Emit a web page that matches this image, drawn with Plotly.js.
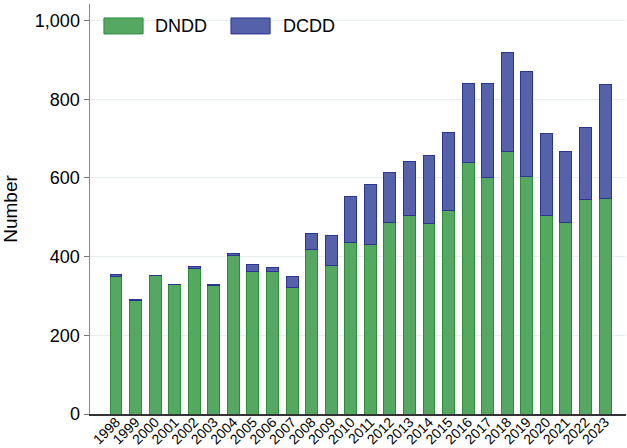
<!DOCTYPE html>
<html>
<head>
<meta charset="utf-8">
<script src="https://cdn.plot.ly/plotly-3.0.1.min.js"></script>
<style>html,body{margin:0;padding:0;background:#fff;}#chart{width:627px;height:448px;}</style>
</head>
<body>
<div id="chart"></div>
<script>
const years = ["1998","1999","2000","2001","2002","2003","2004","2005","2006","2007","2008","2009","2010","2011","2012","2013","2014","2015","2016","2017","2018","2019","2020","2021","2022","2023"];
const dndd = [350, 289, 352, 328, 371, 327, 402, 362, 362, 322, 417, 377, 435, 431, 487, 504, 484, 518, 639, 602, 666, 603, 505, 487, 545, 547];
const dcdd = [5, 2, 1, 2, 5, 3, 6, 19, 11, 27, 43, 76, 117, 153, 128, 139, 173, 198, 200, 239, 254, 267, 209, 180, 184, 290];
const seriesNames = ["DNDD", "DCDD"];
const yTicks = [0, 200, 400, 600, 800, 1000];

const greenFill = '#55a862', greenLine = '#2e8b3a';
const blueFill = '#5561a8', blueLine = '#2a3590';
const font = 'Liberation Sans, Arial, sans-serif';

const traces = [
  {type:'bar', x: years, y: dndd, name: seriesNames[0],
   marker:{color: greenFill, line:{color: greenLine, width:1}}},
  {type:'bar', x: years, y: dcdd, name: seriesNames[1],
   marker:{color: blueFill, line:{color: blueLine, width:1}}}
];

const layout = {
  width: 627, height: 448,
  margin: {l: 90, r: 1, t: 4, b: 34},
  barmode: 'stack',
  bargap: 0.39,
  showlegend: false,
  paper_bgcolor: '#fff', plot_bgcolor: '#fff',
  font: {family: font, color: '#000'},
  xaxis: {
    type: 'category',
    range: [-1.33, 26.07],
    tickangle: -45,
    tickfont: {size: 14, family: font, color: '#000'},
    ticklabelstandoff: -7,
    showgrid: false,
    showline: true, linecolor: '#333', linewidth: 1.5,
    ticks: '', zeroline: false
  },
  yaxis: {
    range: [0, 1042],
    tickvals: yTicks,
    tickformat: ',d',
    tickfont: {size: 18, family: font, color: '#000'},
    ticks: 'outside', ticklen: 5, tickcolor: '#777', tickwidth: 1,
    showline: true, linecolor: '#888', linewidth: 1.5,
    showgrid: true, gridcolor: '#e6efec', gridwidth: 1,
    zeroline: false,
    title: {text: 'Number', font: {size: 19, family: font, color: '#000'}, standoff: 14}
  },
  shapes: [
    {type:'rect', xref:'paper', yref:'paper', x0:0.026, x1:0.099, y0:0.927, y1:0.966,
     fillcolor: greenFill, line:{color: greenLine, width:1}},
    {type:'rect', xref:'paper', yref:'paper', x0:0.263, x1:0.336, y0:0.927, y1:0.966,
     fillcolor: blueFill, line:{color: blueLine, width:1}}
  ],
  annotations: [
    {xref:'paper', yref:'paper', x:0.1175, y:0.946, xanchor:'left', yanchor:'middle',
     text: seriesNames[0], showarrow:false, font:{size:18, family: font, color:'#000'}},
    {xref:'paper', yref:'paper', x:0.356, y:0.946, xanchor:'left', yanchor:'middle',
     text: seriesNames[1], showarrow:false, font:{size:18, family: font, color:'#000'}}
  ]
};

Plotly.newPlot('chart', traces, layout, {displayModeBar: false, staticPlot: true});
</script>
</body>
</html>
